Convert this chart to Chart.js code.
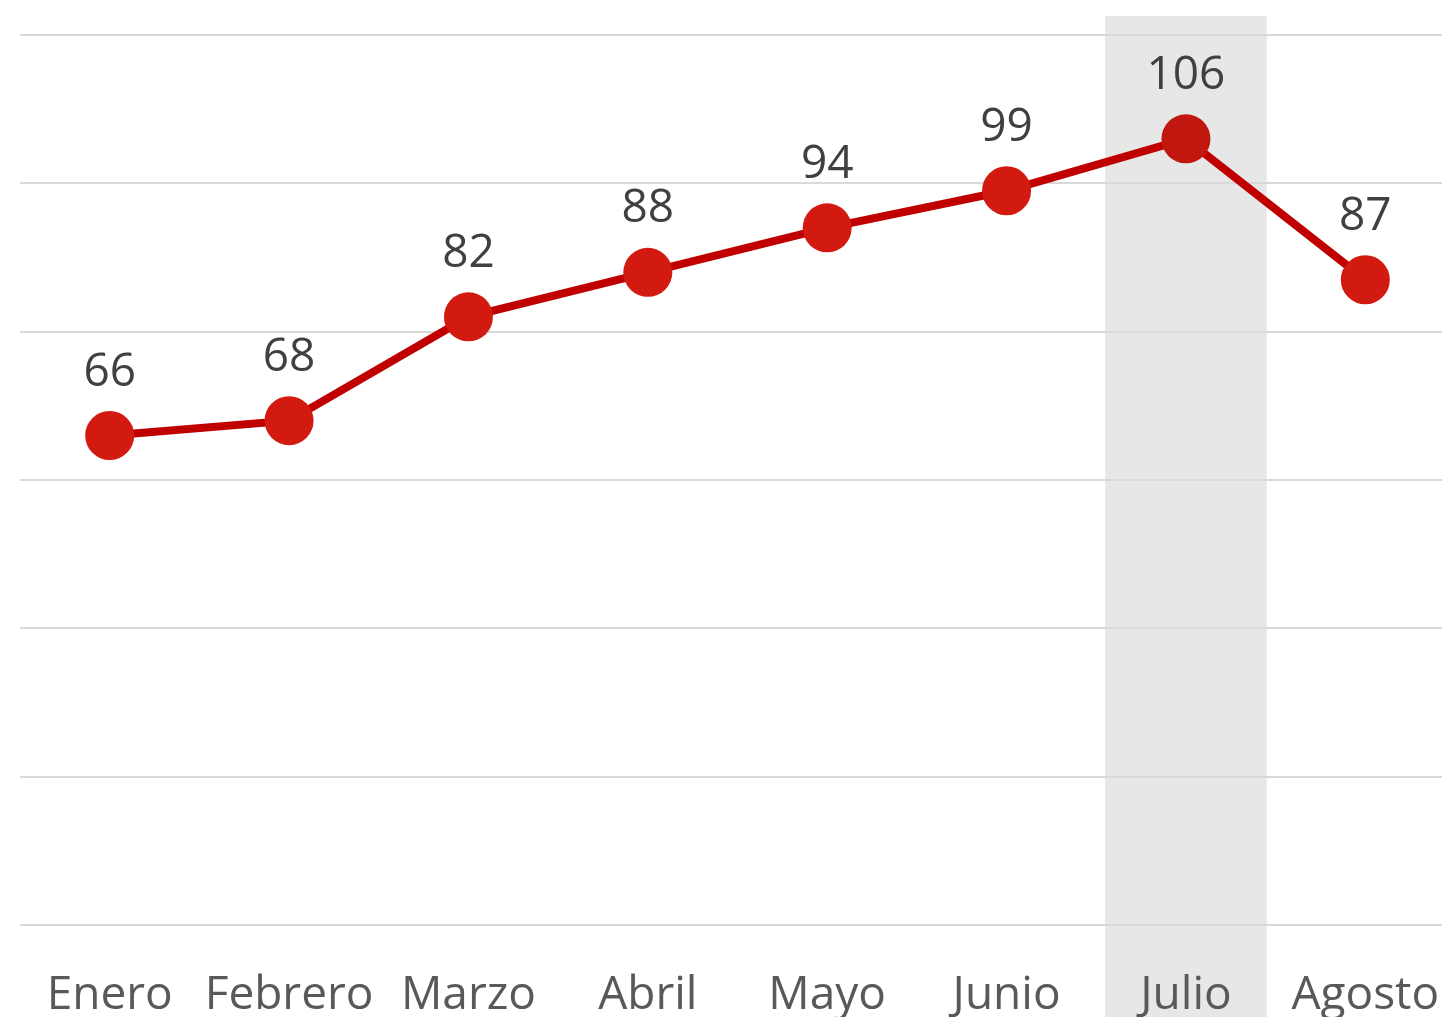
<!DOCTYPE html>
<html>
<head>
<meta charset="utf-8">
<script src="https://cdn.jsdelivr.net/npm/chart.js@4/dist/chart.umd.min.js"></script>
<style>
  html, body { margin: 0; padding: 0; overflow: hidden; background: #fff; }
  canvas { display: block; }
</style>
</head>
<body>
<canvas id="grafico" width="1455" height="1017"></canvas>
<script>
// datos
var meses = ['Enero', 'Febrero', 'Marzo', 'Abril', 'Mayo', 'Junio', 'Julio', 'Agosto'];
var valores = [66, 68, 82, 88, 94, 99, 106, 87];
var mesDestacado = 'Julio';

var colorPunto = meses.map(function (m) {
    return m === mesDestacado ? '#C0180F' : '#D21A10';
});

// banda gris detras del mes destacado
var bandaPlugin = {
    id: 'banda',
    beforeDraw: function (chart) {
        var x = chart.scales.x;
        var i = meses.indexOf(mesDestacado);
        var cx = x.getPixelForValue(i);
        var w = x.width / meses.length * 0.9;
        var ctx = chart.ctx;
        ctx.save();
        ctx.fillStyle = '#E7E7E7';
        ctx.fillRect(cx - w / 2, chart.chartArea.top - 19, w, chart.height);
        ctx.restore();
    }
};

// etiquetas de valores
var etiquetasPlugin = {
    id: 'etiquetas',
    afterDatasetsDraw: function (chart) {
        var ctx = chart.ctx;
        var meta = chart.getDatasetMeta(0);
        ctx.save();
        ctx.font = '46px "Open Sans"';
        ctx.fillStyle = '#404040';
        ctx.textAlign = 'center';
        ctx.textBaseline = 'alphabetic';
        meta.data.forEach(function (pt, i) {
            ctx.fillText(valores[i], pt.x, pt.y - 50);
        });
        ctx.restore();
    }
};

var ctx = document.getElementById('grafico').getContext('2d');
var grafico = new Chart(ctx, {
    type: 'line',
    data: {
        labels: meses,
        datasets: [{
            data: valores,
            borderColor: '#C00000',
            borderWidth: 8,
            pointRadius: 24.5,
            pointHoverRadius: 24.5,
            pointBorderWidth: 0,
            pointBackgroundColor: colorPunto,
            pointBorderColor: colorPunto,
            tension: 0,
            clip: false
        }]
    },
    options: {
        responsive: false,
        animation: false,
        events: [],
        layout: { autoPadding: false, padding: { top: 35, left: 20, right: 0, bottom: 0 } },
        plugins: {
            legend: { display: false },
            tooltip: { enabled: false }
        },
        scales: {
            x: {
                offset: true,
                grid: { display: false, drawTicks: false },
                border: { display: false },
                ticks: {
                    color: '#595959',
                    font: { family: '"Open Sans"', size: 46 },
                    padding: 43,
                    maxRotation: 0,
                    autoSkip: false
                },
                afterFit: function (scale) {
                    scale.height = 92;
                    scale.paddingLeft = 0;
                    scale.paddingRight = 0;
                }
            },
            y: {
                min: 0,
                max: 120,
                ticks: { display: false, stepSize: 20 },
                grid: { color: '#D9D9D9', lineWidth: 2, drawTicks: false },
                border: { display: false },
                afterFit: function (scale) {
                    scale.width = 0;
                    scale.paddingTop = 0;
                    scale.paddingBottom = 0;
                }
            }
        }
    },
    plugins: [bandaPlugin, etiquetasPlugin]
});
</script>
</body>
</html>
